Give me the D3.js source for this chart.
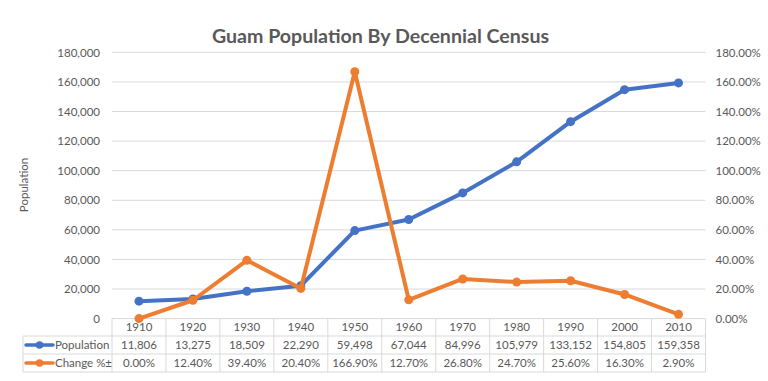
<!DOCTYPE html>
<html><head><meta charset="utf-8">
<script src="https://cdn.jsdelivr.net/npm/d3@7"></script>
<style>body{margin:0;background:#fff}svg{display:block}text{font-family:Lato,"Open Sans",sans-serif}</style>
</head><body><svg id="c" width="768" height="381"></svg>
<script>
const years = ["1910","1920","1930","1940","1950","1960","1970","1980","1990","2000","2010"];
const population = [11806,13275,18509,22290,59498,67044,84996,105979,133152,154805,159358];
const change = [0.00,12.40,39.40,20.40,166.90,12.70,26.80,24.70,25.60,16.30,2.90];
const popTicks = [0,20000,40000,60000,80000,100000,120000,140000,160000,180000];
const pctTicks = [0,20,40,60,80,100,120,140,160,180];
const seriesNames = ["Population","Change %\u00b1"];

const svg = d3.select("#c");
const L = 112, R = 705.5, T = 52.4, B = 318.6;
const x = d3.scaleBand().domain(years).range([L, R]);
const y = d3.scaleLinear().domain([0,180000]).range([B, T]);
const y2 = d3.scaleLinear().domain([0,180]).range([B, T]);
const blue = "#4472C4", orange = "#ED7D31", gray = "#595959", grid = "#D9D9D9";
const FS = 11.5;

svg.append("text").attr("x", 380.5).attr("y", 43).attr("text-anchor","middle")
  .attr("font-size", 19.6).attr("font-weight","bold").attr("fill", gray)
  .text("Guam Population By Decennial Census");

svg.append("g").selectAll("line").data(popTicks.slice(1)).join("line")
  .attr("x1", L).attr("x2", R).attr("y1", d=>y(d)).attr("y2", d=>y(d))
  .attr("stroke", grid).attr("stroke-width", 1);

const ya = d3.axisLeft(y).tickValues(popTicks).tickFormat(d3.format(",")).tickSize(0).tickPadding(12);
svg.append("g").attr("transform",`translate(${L},0)`).call(ya)
  .call(g=>g.select(".domain").remove())
  .call(g=>g.selectAll("text").attr("fill",gray).attr("font-size",FS).style("font-family","Lato,sans-serif"));
const yb = d3.axisRight(y2).tickValues(pctTicks).tickFormat(d=>d.toFixed(2)+"%").tickSize(0).tickPadding(10);
svg.append("g").attr("transform",`translate(${R},0)`).call(yb)
  .call(g=>g.select(".domain").remove())
  .call(g=>g.selectAll("text").attr("fill",gray).attr("font-size",FS).style("font-family","Lato,sans-serif"));

svg.append("text").attr("transform","translate(28,185) rotate(-90)").attr("text-anchor","middle")
  .attr("font-size",FS).attr("fill",gray).text("Population");

const rowY = [318.6, 336, 354, 372];
const tg = svg.append("g");
const lc = "#D9D9D9";
tg.append("line").attr("x1",L).attr("x2",R).attr("y1",rowY[0]).attr("y2",rowY[0]).attr("stroke",lc);
[1,2,3].forEach(i=>tg.append("line").attr("x1",23).attr("x2",R).attr("y1",rowY[i]).attr("y2",rowY[i]).attr("stroke",lc));
tg.append("line").attr("x1",23).attr("x2",23).attr("y1",rowY[1]).attr("y2",rowY[3]).attr("stroke",lc);
years.forEach(yr=>tg.append("line").attr("x1",x(yr)).attr("x2",x(yr)).attr("y1",rowY[0]).attr("y2",rowY[3]).attr("stroke",lc));
tg.append("line").attr("x1",R).attr("x2",R).attr("y1",rowY[0]).attr("y2",rowY[3]).attr("stroke",lc);

const cx = d=>x(d)+x.bandwidth()/2;
tg.selectAll("text.yr").data(years).join("text").attr("class","yr")
  .attr("x",cx).attr("y",(rowY[0]+rowY[1])/2+4).attr("text-anchor","middle")
  .attr("font-size",FS).attr("fill",gray).text(d=>d);
tg.selectAll("text.pop").data(population).join("text").attr("class","pop")
  .attr("x",(d,i)=>cx(years[i])).attr("y",(rowY[1]+rowY[2])/2+4).attr("text-anchor","middle")
  .attr("font-size",FS).attr("fill",gray).text(d=>d3.format(",")(d));
tg.selectAll("text.chg").data(change).join("text").attr("class","chg")
  .attr("x",(d,i)=>cx(years[i])).attr("y",(rowY[2]+rowY[3])/2+4).attr("text-anchor","middle")
  .attr("font-size",FS).attr("fill",gray).text(d=>d.toFixed(2)+"%");

[[blue,1],[orange,2]].forEach(([c,i])=>{
  const yy=(rowY[i]+rowY[i+1])/2;
  tg.append("line").attr("x1",26).attr("x2",53).attr("y1",yy).attr("y2",yy).attr("stroke",c).attr("stroke-width",3.5).attr("stroke-linecap","round");
  tg.append("circle").attr("cx",39.5).attr("cy",yy).attr("r",3.8).attr("fill",c);
  tg.append("text").attr("x",55).attr("y",yy+4).attr("font-size",FS).attr("fill",gray).text(seriesNames[i-1]);
});

const popLine = d3.line().x((d,i)=>cx(years[i])).y(d=>y(d));
const chgLine = d3.line().x((d,i)=>cx(years[i])).y(d=>y2(d));
svg.append("path").datum(population).attr("d",popLine).attr("fill","none").attr("stroke",blue).attr("stroke-width",4).attr("stroke-linejoin","round");
svg.append("g").selectAll("circle").data(population).join("circle")
  .attr("cx",(d,i)=>cx(years[i])).attr("cy",d=>y(d)).attr("r",4.5).attr("fill",blue);
svg.append("path").datum(change).attr("d",chgLine).attr("fill","none").attr("stroke",orange).attr("stroke-width",4).attr("stroke-linejoin","round");
svg.append("g").selectAll("circle").data(change).join("circle")
  .attr("cx",(d,i)=>cx(years[i])).attr("cy",d=>y2(d)).attr("r",4.5).attr("fill",orange);
</script></body></html>
